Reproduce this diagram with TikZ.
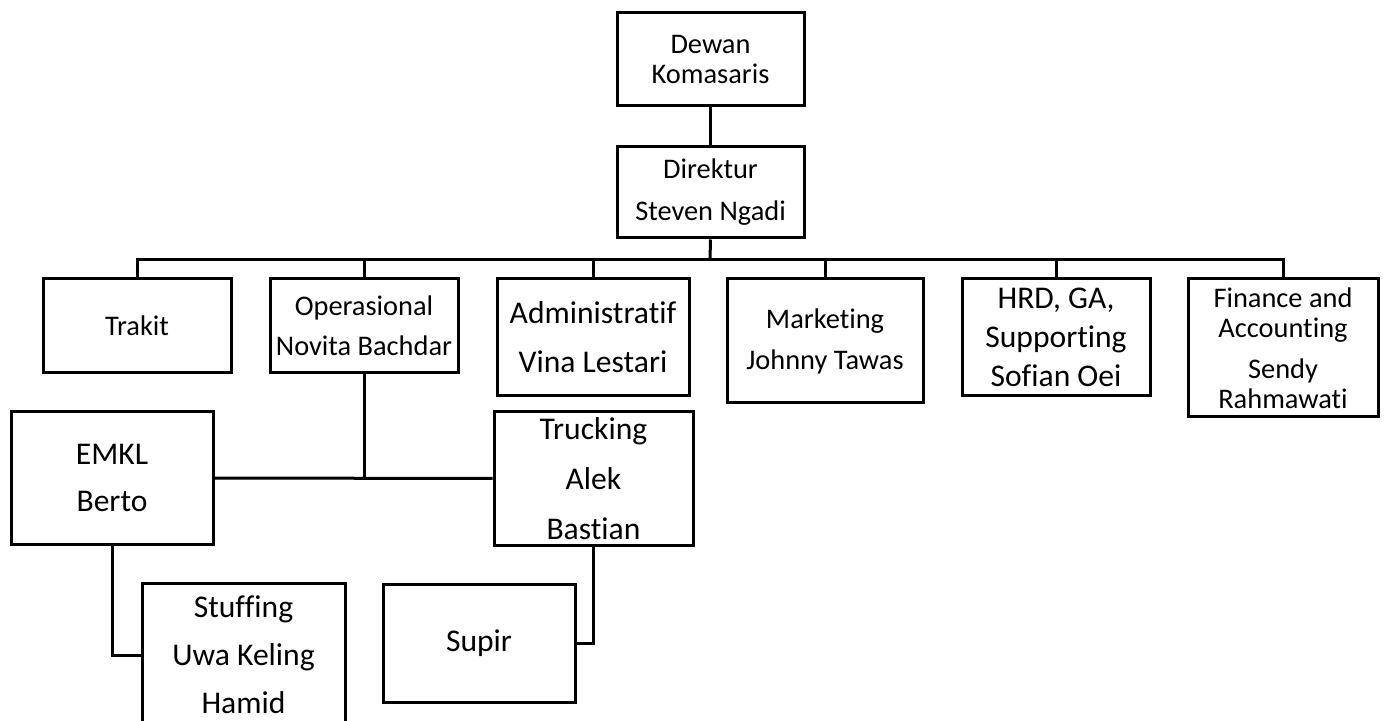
\documentclass[tikz,border=0pt]{standalone}
\usepackage{fontspec}
\setmainfont{Carlito}[Ligatures=NoCommon]
\begin{document}
\begin{tikzpicture}
    [x=0.5pt, y=-0.5pt,
    line width=1.5pt,
    unit/.style = {draw, rectangle, align=center, inner sep=1pt,
                font=\fontsize{14.2}{15}\selectfont},
    bigunit/.style = {unit, font=\fontsize{15.8}{19.5}\selectfont},
    wh/.style 2 args = {minimum width=#1, minimum height=#2}]
    \useasboundingbox (0,0) rectangle (1387,721);
    \node[unit, wh={93.5pt}{46.5pt}] (dewan) at (710.5,59.5) {Dewan\\Komasaris};
    \node[unit, wh={93.5pt}{45.5pt}] (direktur) at (710.5,192.5) {Direktur\\[6pt]Steven Ngadi};
    \node[unit, wh={94pt}{47pt}] (trakit) at (137,326) {Trakit};
    \node[unit, wh={94pt}{47pt}] (operasional) at (364,326) {Operasional\\[5pt]Novita Bachdar};
    \node[bigunit, wh={96pt}{58.5pt}] (admin) at (593,337.5) {Administratif\\[5pt]Vina Lestari};
    \node[unit, wh={98pt}{62pt}] (marketing) at (825,341) {Marketing\\[5.5pt]Johnny Tawas};
    \node[bigunit, wh={94pt}{58.5pt}] (hrd) at (1056,337.5) {HRD, GA,\\Supporting\\Sofian Oei};
    \node[unit, wh={95pt}{69pt}] (finance) at (1283,348) {Finance and\\Accounting\\[5.5pt]Sendy\\Rahmawati};
    \node[bigunit, wh={101pt}{66pt}] (emkl) at (112,478) {EMKL\\[4pt]Berto};
    \node[bigunit, wh={99.5pt}{66.5pt}] (trucking) at (593.5,478.5) {Trucking\\[5.5pt]Alek\\[5.5pt]Bastian};
    \node[bigunit, wh={101.5pt}{72pt}] (stuffing) at (243.5,655) {Stuffing\\[4.5pt]Uwa Keling\\[4.5pt]Hamid};
    \node[bigunit, wh={96pt}{59pt}] (supir) at (479,643) {Supir};
    \coordinate (bus) at (710,260);
    \draw (dewan) -- (direktur);
    \draw (direktur.south) -- (bus);
    \draw (trakit.north) -- (trakit.north |- bus) -- (finance.north |- bus) -- (finance.north);
    \foreach \unitname in {operasional, admin, marketing, hrd}
        \draw (\unitname.north) -- (\unitname.north |- bus);
    \draw (operasional.south) -- (operasional.south |- emkl.east);
    \draw (emkl.east) -- (trucking.west);
    \draw (emkl.south) |- (stuffing.west);
    \draw (trucking.south) |- (supir.east);
\end{tikzpicture}
\end{document}
